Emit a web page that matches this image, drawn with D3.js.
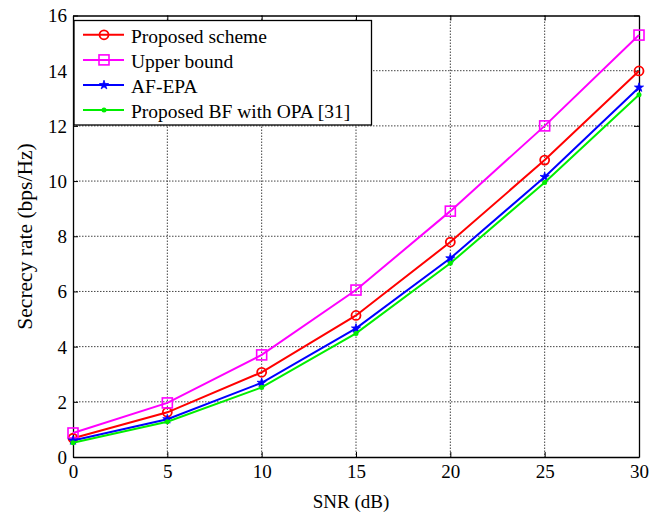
<!DOCTYPE html>
<html><head><meta charset="utf-8">
<script src="https://cdn.jsdelivr.net/npm/d3@7"></script>
<style>body{margin:0;background:#fff}svg{display:block}svg text{font-family:"Liberation Serif","Times New Roman",serif !important;fill:#000}</style>
</head><body><svg id="c" width="655" height="512"></svg>
<script>
const snr = [0, 5, 10, 15, 20, 25, 30];
const proposed = [0.68, 1.62, 3.07, 5.13, 7.79, 10.76, 13.99];
const upperBound = [0.87, 1.96, 3.70, 6.05, 8.91, 12.0, 15.29];
const afEpa = [0.60, 1.37, 2.69, 4.66, 7.20, 10.15, 13.39];
const bfOpa = [0.52, 1.28, 2.52, 4.48, 7.02, 9.95, 13.13];
const xTicks = [0, 5, 10, 15, 20, 25, 30];
const yTicks = [0, 2, 4, 6, 8, 10, 12, 14, 16];
const seriesNames = ["Proposed scheme", "Upper bound", "AF-EPA", "Proposed BF with OPA [31]"];

const FONT = '"Liberation Serif", "Times New Roman", serif';
const svg = d3.select("#c");
const L = 73, R = 639, T = 15.5, B = 457;
const x = d3.scaleLinear().domain([0, 30]).range([L, R]);
const y = d3.scaleLinear().domain([0, 16]).range([B, T]);

// grid
const g = svg.append("g");
g.selectAll(".gx").data(xTicks.slice(1, -1)).enter().append("line")
  .attr("x1", d => x(d)).attr("x2", d => x(d)).attr("y1", T).attr("y2", B)
  .attr("stroke", "#444").attr("stroke-width", 1).attr("stroke-dasharray", "1.5,1.5");
g.selectAll(".gy").data(yTicks.slice(1, -1)).enter().append("line")
  .attr("y1", d => y(d)).attr("y2", d => y(d)).attr("x1", L).attr("x2", R)
  .attr("stroke", "#444").attr("stroke-width", 1).attr("stroke-dasharray", "1.5,1.5");

// axes
const fmt = d3.format("d");
const ax = svg.append("g").attr("transform", `translate(0,${B})`)
  .call(d3.axisBottom(x).tickValues(xTicks).tickFormat(fmt).tickSizeInner(-5).tickSizeOuter(0));
ax.selectAll("text").attr("y", 21).attr("dy", "0");
const ay = svg.append("g").attr("transform", `translate(${L},0)`)
  .call(d3.axisLeft(y).tickValues(yTicks).tickFormat(fmt).tickSizeInner(-5).tickSizeOuter(0));
ay.selectAll("text").attr("x", -6).attr("dy", "0.34em");
const axT = svg.append("g").attr("transform", `translate(0,${T})`)
  .call(d3.axisTop(x).tickValues(xTicks).tickFormat("").tickSizeInner(-5).tickSizeOuter(0));
const ayR = svg.append("g").attr("transform", `translate(${R},0)`)
  .call(d3.axisRight(y).tickValues(yTicks).tickFormat("").tickSizeInner(-5).tickSizeOuter(0));
[ax, ay, axT, ayR].forEach(a => {
  a.attr("font-family", FONT).attr("font-size", 19);
  a.select(".domain").attr("stroke", "#000").attr("stroke-width", 1.3);
  a.selectAll(".tick line").attr("stroke", "#000").attr("stroke-width", 1);
  a.selectAll("text").style("font-family", FONT).style("font-size", "19px").attr("fill", "#000");
});

// labels
svg.append("text").attr("x", 351).attr("y", 508).attr("text-anchor", "middle")
  .style("font-family", FONT).style("font-size", "19px").text("SNR (dB)");
svg.append("text").attr("transform", `translate(32,236.5) rotate(-90)`).attr("text-anchor", "middle")
  .style("font-family", FONT).style("font-size", "21.5px").text("Secrecy rate (bps/Hz)");

const series = [
  {name: seriesNames[0], v: proposed, c: "#ff0000", m: "circle"},
  {name: seriesNames[1], v: upperBound, c: "#ff00ff", m: "square"},
  {name: seriesNames[2], v: afEpa, c: "#0000ff", m: "star"},
  {name: seriesNames[3], v: bfOpa, c: "#00ee00", m: "dot"}
];
const line = d3.line().x(d => x(d[0])).y(d => y(d[1]));

function marker(sel, s, cx, cy) {
  if (s.m === "circle") sel.append("circle").attr("cx", cx).attr("cy", cy).attr("r", 4.5)
    .attr("fill", "none").attr("stroke", s.c).attr("stroke-width", 1.8);
  else if (s.m === "square") sel.append("rect").attr("x", cx - 5).attr("y", cy - 5).attr("width", 10).attr("height", 10)
    .attr("fill", "none").attr("stroke", s.c).attr("stroke-width", 1.6);
  else if (s.m === "star") sel.append("path").attr("transform", `translate(${cx},${cy})`)
    .attr("d", d3.symbol(d3.symbolStar, 26)()).attr("fill", s.c).attr("stroke", s.c).attr("stroke-width", 0.8);
  else sel.append("circle").attr("cx", cx).attr("cy", cy).attr("r", 2.5).attr("fill", s.c);
}

series.forEach(s => {
  const pts = snr.map((d, i) => [d, s.v[i]]);
  svg.append("path").attr("d", line(pts)).attr("fill", "none").attr("stroke", s.c).attr("stroke-width", 2);
  const mg = svg.append("g");
  pts.forEach(p => marker(mg, s, x(p[0]), y(p[1])));
});

// legend
const lg = svg.append("g");
lg.append("rect").attr("x", 74).attr("y", 20.5).attr("width", 297.5).attr("height", 104.5)
  .attr("fill", "#fff").attr("stroke", "#000").attr("stroke-width", 1.3);
series.forEach((s, i) => {
  const yy = 34.8 + i * 25.1;
  lg.append("line").attr("x1", 83).attr("x2", 124).attr("y1", yy).attr("y2", yy).attr("stroke", s.c).attr("stroke-width", 2);
  marker(lg, s, 104, yy);
  lg.append("text").attr("x", 131).attr("y", yy + 8).style("font-family", FONT).style("font-size", "19.5px").text(s.name);
});
</script></body></html>
